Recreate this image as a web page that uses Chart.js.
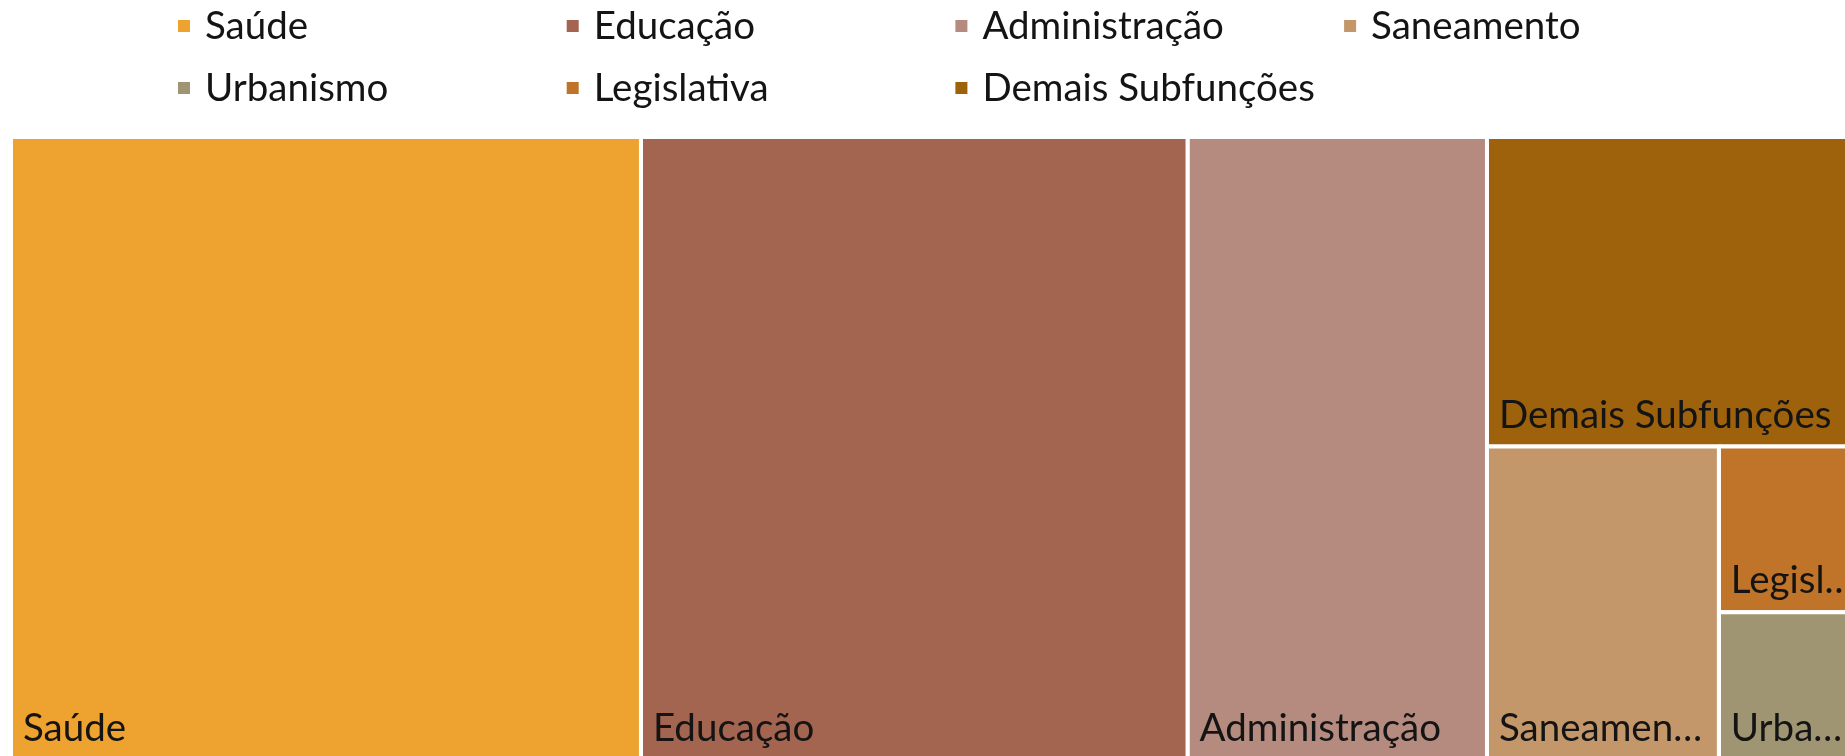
<!DOCTYPE html>
<html>
<head>
<meta charset="utf-8">
<title>Despesas por subfunção</title>
<script src="https://cdn.jsdelivr.net/npm/chart.js@4.4.0/dist/chart.umd.min.js"></script>
<style>
  html, body { margin: 0; padding: 0; background: #fff; }
  #chart_wrap { width: 1845px; height: 756px; }
</style>
</head>
<body>
<div id="chart_wrap"><canvas id="treemap_canvas" width="1845" height="756"></canvas></div>
<script>
//  chart data (share of spending, %)
var categories = ['Saúde', 'Educação', 'Administração', 'Saneamento', 'Urbanismo', 'Legislativa', 'Demais Subfunções'];
var values     = [33.85, 29.37, 16.09, 6.27, 1.95, 2.19, 10.28];
var colors     = ['#EEA230', '#A36450', '#B58A7F', '#C4976B', '#A09573', '#C07429', '#9E620C'];

(function() {
  'use strict';

  var FONT       = '38.5px Lato',
      TEXT_COLOR = '#141414',
      BOX_W      = 1861,   // treemap box, in axis units (right part runs off the canvas)
      BOX_H      = 623;

  /**
   * [layoutTreemap cut one strip per item off the longer side]
   */
  function layoutTreemap(_values, _w, _h) {

    var order = _values.map(function(v, i) { return i; })
                       .sort(function(a, b) { return _values[b] - _values[a]; });

    var total = _values.reduce(function(s, v) { return s + v; }, 0),
        x = 0, y = 0, w = _w, h = _h,
        rects = [];

    order.forEach(function(idx, n) {

      var v = _values[idx], r;

      if (n === order.length - 1) {
        r = {x: x, y: y, w: w, h: h};
      }
      else if (w >= h) {
        var cw = w * v / total;
        r = {x: x, y: y, w: cw, h: h};
        x += cw; w -= cw;
      }
      else {
        var ch = h * v / total;
        r = {x: x, y: y, w: w, h: ch};
        y += ch; h -= ch;
      }

      total -= v;
      rects[idx] = r;
    });

    return rects;
  }

  var rects = layoutTreemap(values, BOX_W, BOX_H);

  var datasets = categories.map(function(name, i) {
    var r = rects[i];
    return {
      label: name,
      data: [
        {x: r.x, y: r.y},
        {x: r.x + r.w, y: r.y},
        {x: r.x + r.w, y: r.y + r.h},
        {x: r.x, y: r.y + r.h},
        {x: r.x, y: r.y}
      ],
      backgroundColor: colors[i],
      borderColor: '#ffffff',
      borderWidth: 4,
      borderJoinStyle: 'miter',
      fill: 'shape',
      tension: 0,
      pointRadius: 0,
      pointHoverRadius: 0
    };
  });

  //  fit a label in the cell, cut with an ellipsis
  function fitText(ctx, _text, _max) {

    if (ctx.measureText(_text).width <= _max) return _text;

    for (var n = _text.length - 1; n > 0; n--) {
      var t = _text.slice(0, n) + '…';
      if (ctx.measureText(t).width <= _max) return t;
    }
    return '';
  }

  //  cell labels, bottom left
  var cellLabels = {
    id: 'cellLabels',
    afterDatasetsDraw: function(chart) {

      var ctx = chart.ctx,
          sx  = chart.scales.x,
          sy  = chart.scales.y;

      ctx.save();
      ctx.font = FONT;
      ctx.fillStyle = TEXT_COLOR;
      ctx.textAlign = 'left';
      ctx.textBaseline = 'alphabetic';

      categories.forEach(function(name, i) {
        var r  = rects[i],
            x0 = sx.getPixelForValue(r.x),
            x1 = sx.getPixelForValue(r.x + r.w),
            y1 = sy.getPixelForValue(r.y + r.h);

        var txt = fitText(ctx, name, x1 - x0 - 26);
        ctx.fillText(txt, x0 + 12, y1 - 19);
      });
      ctx.restore();
    }
  };

  //  legend on a fixed grid, 4 columns
  var gridLegend = {
    id: 'gridLegend',
    afterDraw: function(chart) {

      var ctx = chart.ctx;

      ctx.save();
      ctx.font = FONT;
      ctx.textAlign = 'left';
      ctx.textBaseline = 'middle';

      categories.forEach(function(name, i) {
        var col = i % 4,
            row = Math.floor(i / 4),
            bx  = 178 + col * 388.7,
            cy  = 26 + row * 62;

        ctx.fillStyle = colors[i];
        ctx.fillRect(bx, cy - 6, 12, 12);

        ctx.fillStyle = TEXT_COLOR;
        ctx.fillText(name, bx + 27, cy + 1);
      });
      ctx.restore();
    }
  };

  var ctx = document.getElementById('treemap_canvas').getContext('2d');

  var myChart = new Chart(ctx, {
    type: 'line',
    data: { datasets: datasets },
    options: {
      responsive: false,
      animation: false,
      layout: { padding: { left: 11, top: 137, right: 0, bottom: 0 } },
      scales: {
        x: { type: 'linear', display: false, min: 0, max: 1834 },
        y: { type: 'linear', display: false, reverse: true, min: 0, max: BOX_H - 4 }
      },
      plugins: {
        legend: { display: false },
        tooltip: { enabled: false }
      }
    },
    plugins: [cellLabels, gridLegend]
  });

})();
</script>
</body>
</html>
